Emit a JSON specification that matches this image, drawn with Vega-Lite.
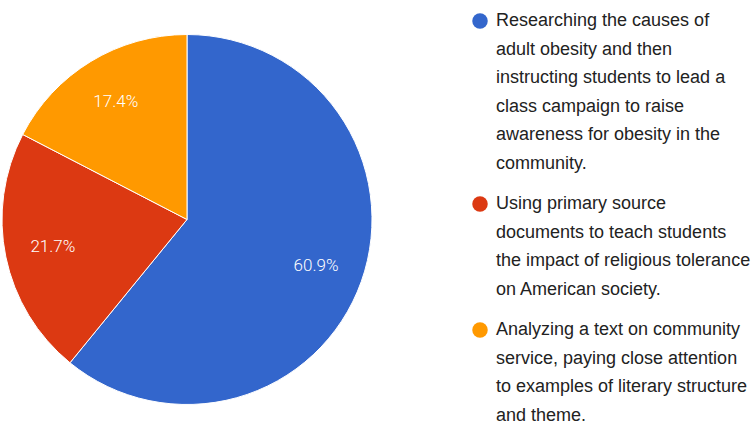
{
  "$schema": "https://vega.github.io/schema/vega-lite/v6.json",
  "width": 368,
  "height": 439,
  "padding": 0,
  "autosize": {"type": "pad"},
  "background": "white",
  "data": {
    "values": [
      {"option": "Researching the causes of|adult obesity and then|instructing students to lead a|class campaign to raise|awareness for obesity in the|community.", "share": 0.609, "order": 1},
      {"option": "Using primary source|documents to teach students|the impact of religious tolerance|on American society.", "share": 0.217, "order": 2},
      {"option": "Analyzing a text on community|service, paying close attention|to examples of literary structure|and theme.", "share": 0.174, "order": 3}
    ]
  },
  "encoding": {
    "theta": {"field": "share", "type": "quantitative", "stack": true},
    "order": {"field": "order", "type": "quantitative"},
    "color": {
      "field": "option",
      "type": "nominal",
      "scale": {
        "domain": [
          "Researching the causes of|adult obesity and then|instructing students to lead a|class campaign to raise|awareness for obesity in the|community.",
          "Using primary source|documents to teach students|the impact of religious tolerance|on American society.",
          "Analyzing a text on community|service, paying close attention|to examples of literary structure|and theme."
        ],
        "range": ["#3366CC", "#DC3912", "#FF9900"]
      },
      "legend": {
        "title": null,
        "orient": "right",
        "offset": 88,
        "symbolType": "circle",
        "symbolSize": 240,
        "symbolStrokeWidth": 0,
        "labelExpr": "split(datum.label, '|')",
        "labelFontSize": 18,
        "labelFont": "Liberation Sans",
        "labelColor": "#222222",
        "labelLimit": 0,
        "labelOffset": 7,
        "rowPadding": 22,
        "padding": 12
      }
    }
  },
  "layer": [
    {
      "mark": {"type": "arc", "outerRadius": 185, "stroke": "white", "strokeWidth": 1}
    },
    {
      "mark": {"type": "text", "radius": 137, "color": "white", "fontSize": 17, "font": "Roboto", "fontWeight": 300},
      "encoding": {
        "text": {"field": "share", "type": "quantitative", "format": ".1%"},
        "color": {"value": "white"}
      }
    }
  ],
  "config": {
    "view": {"stroke": null},
    "style": {"guide-label": {"lineHeight": 28.6}}
  }
}
